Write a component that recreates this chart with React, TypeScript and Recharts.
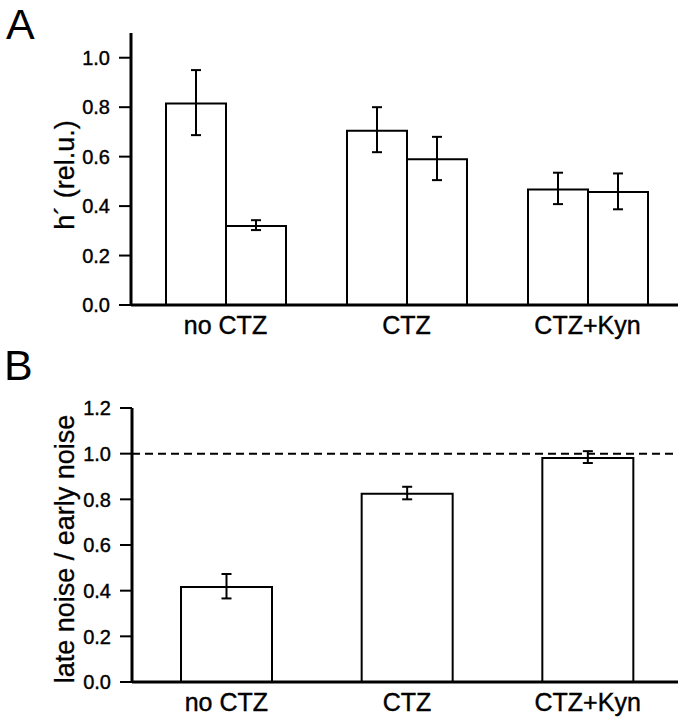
import { BarChart, Bar, XAxis, YAxis, ErrorBar, ReferenceLine, Label } from 'recharts'

const groups = ['no CTZ', 'CTZ', 'CTZ+Kyn']

// panel A: h' (rel.u.), two bars per group
const hFirst = [0.815, 0.705, 0.467]
const hFirstLow = [0.687, 0.618, 0.408]
const hFirstHigh = [0.95, 0.8, 0.535]
const hSecond = [0.319, 0.589, 0.457]
const hSecondLow = [0.303, 0.505, 0.387]
const hSecondHigh = [0.343, 0.68, 0.532]
const ticksA = [0, 0.2, 0.4, 0.6, 0.8, 1.0]

// panel B: late noise / early noise
const ratio = [0.416, 0.824, 0.981]
const ratioLow = [0.366, 0.8, 0.959]
const ratioHigh = [0.473, 0.855, 1.011]
const ticksB = [0, 0.2, 0.4, 0.6, 0.8, 1.0, 1.2]

const dataA = groups.map((g, i) => ({
  group: g,
  first: hFirst[i],
  firstErr: [hFirst[i] - hFirstLow[i], hFirstHigh[i] - hFirst[i]],
  second: hSecond[i],
  secondErr: [hSecond[i] - hSecondLow[i], hSecondHigh[i] - hSecond[i]],
}))

const dataB = groups.map((g, i) => ({
  group: g,
  ratio: ratio[i],
  ratioErr: [ratio[i] - ratioLow[i], ratioHigh[i] - ratio[i]],
}))

const font = '"Liberation Sans", Arial, Helvetica, sans-serif'
const catStyle = { fontSize: 25, fill: '#000', fontFamily: font, stroke: '#000', strokeWidth: 0.4 }

const YTick = (props: any) => (
  <text
    x={props.x}
    y={props.y}
    dy="0.36em"
    textAnchor="end"
    fontSize={20}
    fontFamily={font}
    fill="#000"
    stroke="#000"
    strokeWidth={0.4}
  >
    {Number(props.payload.value).toFixed(1)}
  </text>
)

const yLabel = (text: string, dy: number) => (props: any) => {
  const vb = props.viewBox
  const cy = vb.y + vb.height / 2 + dy
  return (
    <text
      x={74}
      y={cy}
      transform={`rotate(-90 74 ${cy})`}
      textAnchor="middle"
      fontSize={27}
      fontFamily={font}
      fill="#000"
      stroke="#000"
      strokeWidth={0.3}
    >
      {text}
    </text>
  )
}

const letter = (ch: string, top: number, left: number) => (
  <div
    style={{
      position: 'absolute',
      top,
      left,
      fontSize: 43,
      lineHeight: '46px',
      fontFamily: font,
      color: '#000',
    }}
  >
    {ch}
  </div>
)

export default function App() {
  return (
    <div
      style={{
        position: 'absolute',
        top: 0,
        left: 0,
        width: 680,
        height: 720,
        background: '#fff',
      }}
    >
      {letter('A', 1, 6)}
      {letter('B', 342, 4)}
      <div style={{ position: 'absolute', top: 0, left: 0 }}>
        <BarChart
          width={680}
          height={340}
          data={dataA}
          margin={{ top: 33, right: 2, bottom: 0, left: 0 }}
          barGap={0}
          barSize={60}
        >
          <XAxis
            dataKey="group"
            height={35}
            padding={{ left: 4, right: 0 }}
            axisLine={{ stroke: '#000', strokeWidth: 3 }}
            tickLine={false}
            tickSize={10}
            tickMargin={1}
            tick={catStyle}
          />
          <YAxis
            width={131}
            domain={[0, 1.1]}
            ticks={ticksA}
            axisLine={{ stroke: '#000', strokeWidth: 3 }}
            tickLine={{ stroke: '#000', strokeWidth: 2 }}
            tickSize={12}
            tickMargin={9}
            tick={<YTick />}
          >
            <Label content={yLabel('h\u00b4 (rel.u.)', 6)} />
          </YAxis>
          <Bar dataKey="first" fill="#fff" stroke="#000" strokeWidth={2} isAnimationActive={false}>
            <ErrorBar dataKey="firstErr" direction="y" width={5} stroke="#000" strokeWidth={2} />
          </Bar>
          <Bar dataKey="second" fill="#fff" stroke="#000" strokeWidth={2} isAnimationActive={false}>
            <ErrorBar dataKey="secondErr" direction="y" width={5} stroke="#000" strokeWidth={2} />
          </Bar>
        </BarChart>
      </div>
      <div style={{ position: 'absolute', top: 340, left: 0 }}>
        <BarChart
          width={680}
          height={380}
          data={dataB}
          margin={{ top: 68, right: 2, bottom: 0, left: 0 }}
          barSize={91}
        >
          <XAxis
            dataKey="group"
            height={38}
            padding={{ left: 4, right: 0 }}
            axisLine={{ stroke: '#000', strokeWidth: 3 }}
            tickLine={false}
            tickSize={10}
            tickMargin={1}
            tick={catStyle}
          />
          <YAxis
            width={132}
            domain={[0, 1.2]}
            ticks={ticksB}
            axisLine={{ stroke: '#000', strokeWidth: 3 }}
            tickLine={{ stroke: '#000', strokeWidth: 2 }}
            tickSize={12}
            tickMargin={9}
            tick={<YTick />}
          >
            <Label content={yLabel('late noise / early noise', 4)} />
          </YAxis>
          <ReferenceLine y={1} stroke="#000" strokeWidth={2} strokeDasharray="8 5" />
          <Bar dataKey="ratio" fill="#fff" stroke="#000" strokeWidth={2} isAnimationActive={false}>
            <ErrorBar dataKey="ratioErr" direction="y" width={5} stroke="#000" strokeWidth={2} />
          </Bar>
        </BarChart>
      </div>
    </div>
  )
}
